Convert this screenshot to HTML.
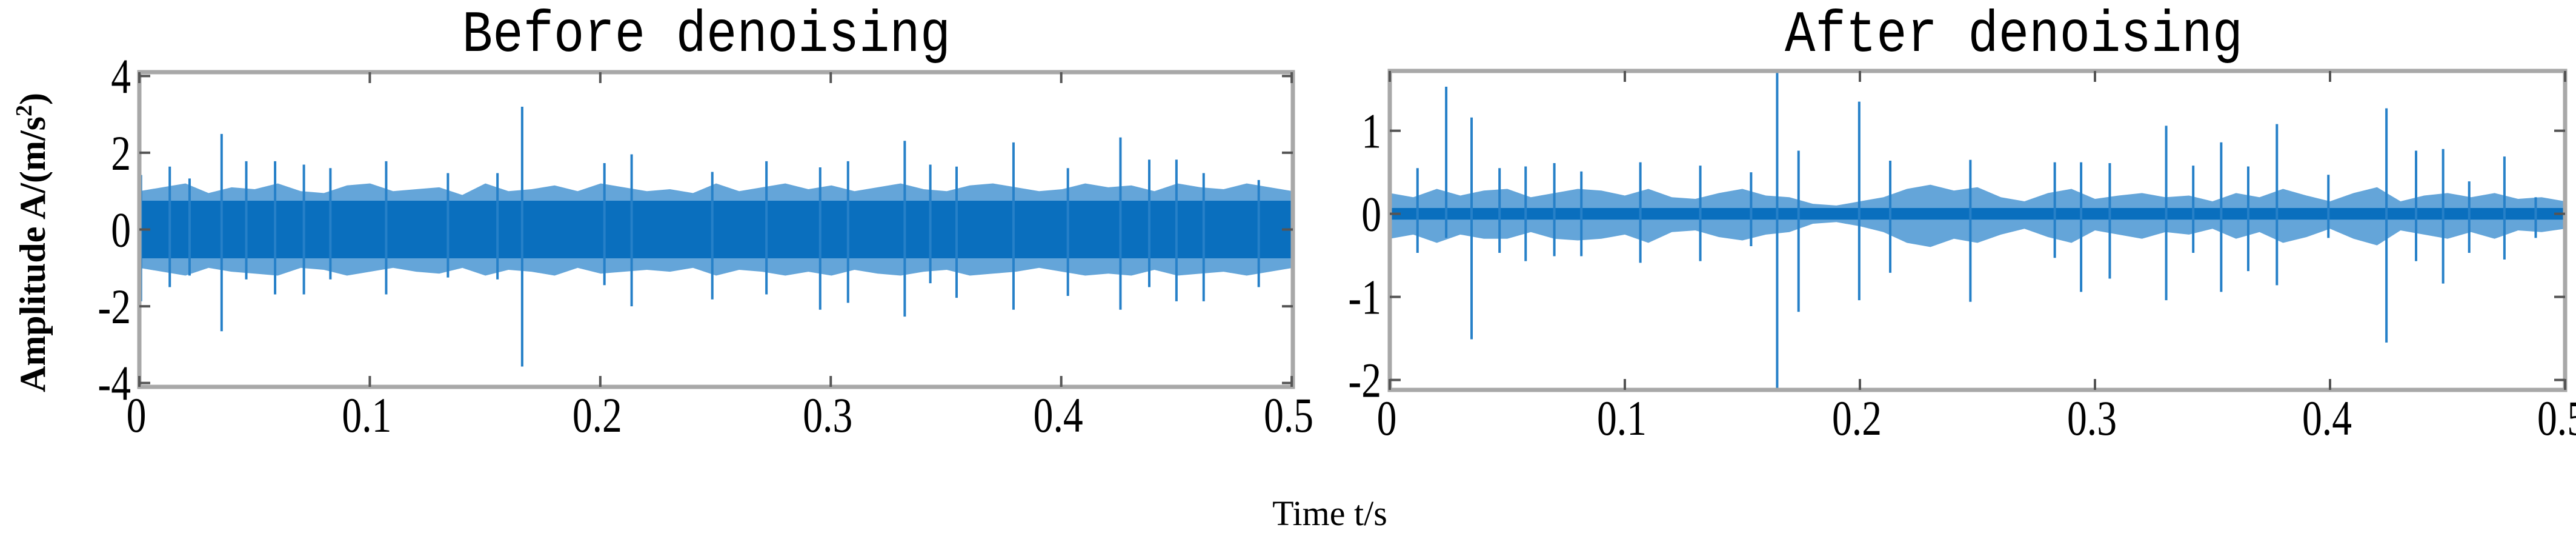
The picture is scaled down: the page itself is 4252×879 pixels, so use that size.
<!DOCTYPE html>
<html><head><meta charset="utf-8"><style>
html,body{margin:0;padding:0;background:#fff;width:4252px;height:879px;overflow:hidden}
svg{display:block}
</style></head><body>
<svg id="fig" width="4252" height="879" viewBox="0 0 4252 879" xmlns="http://www.w3.org/2000/svg">
<text x="1166" y="84" text-anchor="middle" font-family="Liberation Mono, monospace" font-size="84" transform="translate(1166 84) scale(1 1.15) translate(-1166 -84)">Before denoising</text>
<text x="3324" y="84" text-anchor="middle" font-family="Liberation Mono, monospace" font-size="84" transform="translate(3324 84) scale(1 1.15) translate(-3324 -84)">After denoising</text>
<text transform="translate(74 400) rotate(-90)" text-anchor="middle" font-family="Liberation Serif, serif" font-weight="bold" font-size="60">Amplitude A/(m/s<tspan font-size="38" dy="-22">2</tspan><tspan dy="22">)</tspan></text>
<text x="2195" y="866" text-anchor="middle" font-family="Liberation Serif, serif" font-size="58">Time t/s</text>
<g id="left"></g>
<g id="right"></g>
</svg>
<script>
// ---- Left chart data (before denoising) ----
const leftXTicks = [0, 0.1, 0.2, 0.3, 0.4, 0.5];
const leftYTicks = [4, 2, 0, -2, -4];
const leftSpikeTimes = [0.0007,0.0132,0.0218,0.0357,0.0464,0.0589,0.0714,0.0829,0.1071,0.1339,0.1554,0.1661,0.2018,0.2136,0.2486,0.2721,0.2954,0.3075,0.3321,0.3432,0.3546,0.3793,0.4029,0.4257,0.4382,0.4500,0.4618,0.4857];
const leftSpikeMax = [1.42,1.64,1.33,2.49,1.78,1.78,1.69,1.60,1.78,1.47,1.47,3.20,1.73,1.96,1.50,1.78,1.62,1.78,2.31,1.69,1.64,2.27,1.60,2.40,1.82,1.82,1.47,1.29];
const leftSpikeMin = [-1.87,-1.50,-1.20,-2.65,-1.30,-1.69,-1.69,-1.30,-1.69,-1.25,-1.30,-3.57,-1.45,-2.00,-1.82,-1.69,-2.09,-1.91,-2.27,-1.40,-1.78,-2.09,-1.73,-2.09,-1.50,-1.87,-1.87,-1.50];
const leftBandUpper = [1.0,1.1,1.2,0.95,1.1,1.05,1.2,1.0,0.95,1.15,1.2,1.0,1.05,1.1,0.9,1.2,1.0,1.05,1.15,1.0,1.2,1.1,1.0,1.05,0.95,1.2,1.0,1.1,1.2,1.05,1.15,1.0,1.1,1.2,1.05,1.0,1.15,1.2,1.1,1.0,1.05,1.2,1.1,1.15,1.0,1.2,1.1,1.05,1.2,1.1,1.0];
const leftBandLower = [-1.0,-1.1,-1.2,-1.0,-1.1,-1.15,-1.2,-1.0,-1.05,-1.2,-1.1,-1.0,-1.1,-1.15,-1.0,-1.2,-1.05,-1.1,-1.2,-1.0,-1.15,-1.1,-1.05,-1.1,-1.0,-1.2,-1.05,-1.1,-1.2,-1.1,-1.2,-1.05,-1.15,-1.2,-1.1,-1.05,-1.2,-1.15,-1.1,-1.0,-1.1,-1.2,-1.15,-1.2,-1.05,-1.2,-1.15,-1.1,-1.2,-1.1,-1.0];
// ---- Right chart data (after denoising) ----
const rightXTicks = [0, 0.1, 0.2, 0.3, 0.4, 0.5];
const rightYTicks = [1, 0, -1, -2];
const rightSpikeTimes = [0.0002,0.0118,0.0240,0.0348,0.0467,0.0578,0.0700,0.0815,0.1066,0.1321,0.1537,0.1648,0.1739,0.1997,0.2129,0.2470,0.2829,0.2941,0.3063,0.3303,0.3418,0.3537,0.3652,0.3774,0.3993,0.4240,0.4366,0.4481,0.4592,0.4742,0.4875];
const rightSpikeMax = [0.86,0.55,1.53,1.16,0.55,0.57,0.61,0.51,0.62,0.58,0.50,1.72,0.76,1.35,0.64,0.65,0.62,0.62,0.61,1.06,0.58,0.86,0.57,1.08,0.47,1.27,0.76,0.78,0.39,0.69,0.20];
const rightSpikeMin = [-1.27,-0.47,-0.29,-1.51,-0.47,-0.57,-0.51,-0.51,-0.59,-0.57,-0.39,-2.10,-1.18,-1.04,-0.71,-1.06,-0.53,-0.94,-0.78,-1.04,-0.47,-0.94,-0.69,-0.86,-0.29,-1.55,-0.57,-0.84,-0.47,-0.55,-0.29];
const rightBandUpper = [0.25,0.2,0.3,0.22,0.28,0.3,0.2,0.25,0.3,0.28,0.22,0.3,0.2,0.18,0.25,0.3,0.22,0.2,0.12,0.1,0.15,0.2,0.3,0.35,0.28,0.32,0.2,0.15,0.25,0.3,0.18,0.22,0.25,0.2,0.22,0.15,0.25,0.2,0.3,0.22,0.15,0.25,0.32,0.15,0.22,0.25,0.2,0.25,0.18,0.2,0.15];
const rightBandLower = [-0.3,-0.25,-0.35,-0.25,-0.3,-0.3,-0.22,-0.3,-0.32,-0.3,-0.25,-0.35,-0.22,-0.2,-0.28,-0.32,-0.25,-0.22,-0.12,-0.1,-0.15,-0.22,-0.35,-0.4,-0.3,-0.35,-0.25,-0.18,-0.28,-0.35,-0.2,-0.25,-0.3,-0.22,-0.25,-0.18,-0.3,-0.22,-0.35,-0.28,-0.18,-0.3,-0.38,-0.2,-0.25,-0.3,-0.22,-0.3,-0.2,-0.22,-0.18];

const NS='http://www.w3.org/2000/svg';
function mk(tag, attrs, parent){const e=document.createElementNS(NS,tag);for(const k in attrs)e.setAttribute(k,attrs[k]);parent.appendChild(e);return e;}

function drawChart(g, cfg){
  const {L,R,T,B,xmin,xmax,ymin,ymax,xTicks,yTicks,st,smax,smin,bu,bl,core} = cfg;
  const sx=v=>L+(v-xmin)/(xmax-xmin)*(R-L);
  const sy=v=>B-(v-ymin)/(ymax-ymin)*(B-T);
  const clip=mk('clipPath',{id:g.id+'-clip'},g);
  mk('rect',{x:L,y:T,width:R-L,height:B-T},clip);
  const plot=mk('g',{'clip-path':'url(#'+g.id+'-clip)'},g);
  
  
  let pts=[];
  const n=bu.length;
  for(let i=0;i<n;i++){const t=xmin+(xmax-xmin)*i/(n-1);pts.push(sx(t)+','+sy(bu[i]));}
  for(let i=n-1;i>=0;i--){const t=xmin+(xmax-xmin)*i/(n-1);pts.push(sx(t)+','+sy(bl[i]));}
  const band=mk('polygon',{points:pts.join(' '),fill:'#3d8fd0','fill-opacity':'0.8'},plot);
  
  
  const c=mk('rect',{x:L,y:sy(core),width:R-L,height:sy(-core)-sy(core),fill:'#0a6fbe'},plot);
  
  
  for(let i=0;i<st.length;i++){
    const ln=mk('line',{x1:sx(st[i]),x2:sx(st[i]),y1:sy(smax[i]),y2:sy(smin[i]),stroke:'#2680c8','stroke-width':4},plot);
    
    
  }
  const fr=mk('rect',{x:L,y:T,width:R-L,height:B-T,fill:'none',stroke:'#a8a8a8','stroke-width':7},g);
  
  
  xTicks.forEach(v=>{
    const x=sx(v);
    const t1=mk('line',{x1:x,x2:x,y1:B,y2:B-18,stroke:'#555','stroke-width':4},g);
    
    
    const t2=mk('line',{x1:x,x2:x,y1:T,y2:T+18,stroke:'#555','stroke-width':4},g);
    
    
    const tx=mk('text',{x:0,y:0,'text-anchor':'middle','font-family':'Liberation Serif, serif','font-size':82,transform:'translate('+(x-5)+' '+(B+74)+') scale(0.8 1)'},g);
    tx.textContent=String(v);
    
    
  });
  yTicks.forEach(v=>{
    const y=sy(v);
    const t1=mk('line',{x1:L,x2:L+18,y1:y,y2:y,stroke:'#555','stroke-width':4},g);
    
    
    const t2=mk('line',{x1:R,x2:R-18,y1:y,y2:y,stroke:'#555','stroke-width':4},g);
    
    
    const tx=mk('text',{x:0,y:0,'text-anchor':'end','font-family':'Liberation Serif, serif','font-size':82,transform:'translate('+(L-14)+' '+(y+28)+') scale(0.8 1)'},g);
    tx.textContent=v<0?'-'+Math.abs(v):String(v);
    
    
  });
}
drawChart(document.getElementById('left'),{L:230,R:2134,T:119,B:638,xmin:0,xmax:0.5005,ymin:-4.1,ymax:4.1,xTicks:leftXTicks,yTicks:leftYTicks,st:leftSpikeTimes,smax:leftSpikeMax,smin:leftSpikeMin,bu:leftBandUpper,bl:leftBandLower,core:0.75});
drawChart(document.getElementById('right'),{L:2294,R:4234,T:117,B:643,xmin:0,xmax:0.5,ymin:-2.12,ymax:1.72,xTicks:rightXTicks,yTicks:rightYTicks,st:rightSpikeTimes,smax:rightSpikeMax,smin:rightSpikeMin,bu:rightBandUpper,bl:rightBandLower,core:0.07});
</script>
</body></html>
